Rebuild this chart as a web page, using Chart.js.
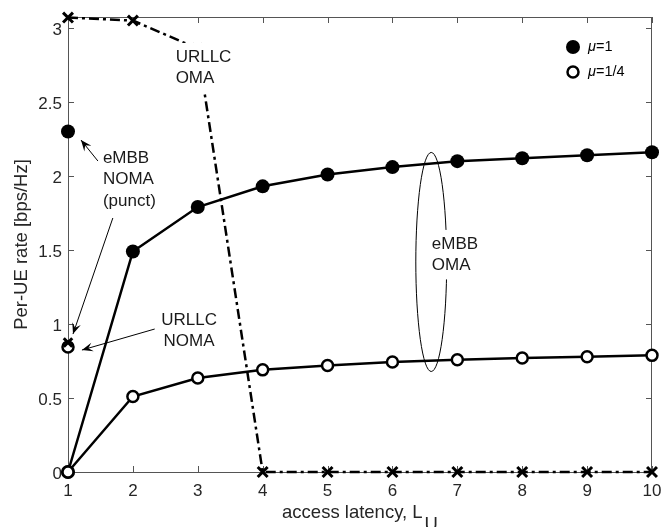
<!DOCTYPE html>
<html><head><meta charset="utf-8">
<script src="https://cdn.jsdelivr.net/npm/chart.js@4/dist/chart.umd.min.js"></script>
<style>html,body{margin:0;padding:0;background:#fff}#wrap{width:662px;height:527px}</style>
</head><body><div id="wrap"><canvas id="c" width="662" height="527"></canvas></div>
<script>
// ---- data ----
const latency = [1, 2, 3, 4, 5, 6, 7, 8, 9, 10];
const embbOmaMu1 = [0, 1.49, 1.79, 1.93, 2.01, 2.06, 2.10, 2.12, 2.14, 2.16];
const embbOmaMuQuarter = [0, 0.51, 0.635, 0.69, 0.72, 0.743, 0.758, 0.77, 0.779, 0.788];
const urllcOma = [3.07, 3.05, 2.86, 0, 0, 0, 0, 0, 0, 0];
const nomaLatency = [1];
const embbNomaPunctMu1 = [2.30];
const embbNomaPunctMuQuarter = [0.845];
const urllcNoma = [0.875];
const xTicks = [1, 2, 3, 4, 5, 6, 7, 8, 9, 10];
const yTicks = [0, 0.5, 1, 1.5, 2, 2.5, 3];
const legendLabels = ['=1', '=1/4'];

const FONT = "'Liberation Sans', Arial, Helvetica, sans-serif";
const pts = (xs, ys) => xs.map((x, i) => ({x: x, y: ys[i]}));

// annotation texts (anchored in data coordinates)
const notes = [
  {lines: ['URLLC', 'OMA'], x: 2.659, y: 2.804, align: 'left'},
  {lines: ['eMBB', 'NOMA', '(punct)'], x: 1.5375, y: 2.122, align: 'left'},
  {lines: ['URLLC', 'NOMA'], x: 2.866, y: 1.027, align: 'center'},
  {lines: ['eMBB', 'OMA'], x: 6.606, y: 1.541, align: 'left'}
];
const arrows = [
  {from: [1.461, 2.101], to: [1.2, 2.243]},
  {from: [1.691, 1.716], to: [1.077, 0.932]},
  {from: [2.336, 0.966], to: [1.215, 0.824]}
];
const ellipse = {cx: 6.598, cy: 1.419, rx: 0.238, ry: 0.74};

const frame = {
  id: 'frame',
  beforeDatasetsDraw(chart) {
    const {ctx, chartArea: a, scales: {x, y}} = chart;
    ctx.save();
    ctx.strokeStyle = '#555';
    ctx.lineWidth = 1;
    ctx.strokeRect(Math.round(a.left) + 0.5, Math.round(a.top) + 0.5,
      Math.round(a.right - a.left) - 1, Math.round(a.bottom - a.top));
    ctx.beginPath();
    xTicks.forEach(v => {
      const p = Math.round(x.getPixelForValue(v)) + 0.5;
      ctx.moveTo(p, a.bottom); ctx.lineTo(p, a.bottom - 6);
      ctx.moveTo(p, a.top); ctx.lineTo(p, a.top + 6);
    });
    yTicks.forEach(v => {
      const p = Math.round(y.getPixelForValue(v)) + 0.5;
      ctx.moveTo(a.left, p); ctx.lineTo(a.left + 6, p);
      ctx.moveTo(a.right, p); ctx.lineTo(a.right - 6, p);
    });
    ctx.stroke();
    ctx.restore();
  },
  afterDatasetsDraw(chart) {
    const {ctx, chartArea: a, scales: {x, y}} = chart;
    ctx.save();
    // ellipse
    ctx.strokeStyle = '#000';
    ctx.lineWidth = 1;
    ctx.beginPath();
    const ecx = x.getPixelForValue(ellipse.cx), ecy = y.getPixelForValue(ellipse.cy);
    const erx = Math.abs(x.getPixelForValue(ellipse.cx + ellipse.rx) - ecx);
    const ery = Math.abs(y.getPixelForValue(ellipse.cy + ellipse.ry) - ecy);
    ctx.ellipse(ecx, ecy, erx, ery, 0, 0, Math.PI * 2);
    ctx.stroke();
    // notes
    ctx.font = '17px ' + FONT;
    ctx.textBaseline = 'middle';
    const lh = 21.5;
    notes.forEach(n => {
      const px = x.getPixelForValue(n.x), py = y.getPixelForValue(n.y);
      const ws = n.lines.map(t => ctx.measureText(t).width);
      const wmax = Math.max(...ws);
      const left = n.align === 'left' ? px : px - wmax / 2;
      ctx.fillStyle = '#fff';
      ctx.fillRect(left - 4, py - 14, wmax + 8, lh * (n.lines.length - 1) + 28);
      ctx.fillStyle = '#1a1a1a';
      n.lines.forEach((t, i) => {
        ctx.textAlign = n.align;
        ctx.fillText(t, px, py + i * lh);
      });
    });
    // arrows
    ctx.strokeStyle = '#000';
    ctx.fillStyle = '#000';
    arrows.forEach(ar => {
      const x0 = x.getPixelForValue(ar.from[0]), y0 = y.getPixelForValue(ar.from[1]);
      const x1 = x.getPixelForValue(ar.to[0]), y1 = y.getPixelForValue(ar.to[1]);
      const ang = Math.atan2(y1 - y0, x1 - x0);
      ctx.lineWidth = 1;
      ctx.beginPath(); ctx.moveTo(x0, y0); ctx.lineTo(x1, y1); ctx.stroke();
      const L = 11, W = 4.5;
      ctx.beginPath();
      ctx.moveTo(x1, y1);
      ctx.lineTo(x1 - L * Math.cos(ang) + W * Math.sin(ang), y1 - L * Math.sin(ang) - W * Math.cos(ang));
      ctx.lineTo(x1 - 0.6 * L * Math.cos(ang), y1 - 0.6 * L * Math.sin(ang));
      ctx.lineTo(x1 - L * Math.cos(ang) - W * Math.sin(ang), y1 - L * Math.sin(ang) + W * Math.cos(ang));
      ctx.closePath();
      ctx.fill();
    });
    // legend
    const lx = a.right - 79, ly1 = a.top + 30, ly2 = a.top + 55;
    ctx.beginPath(); ctx.arc(lx, ly1, 7, 0, Math.PI * 2); ctx.fillStyle = '#000'; ctx.fill();
    ctx.beginPath(); ctx.arc(lx, ly2, 5.5, 0, Math.PI * 2); ctx.fillStyle = '#fff'; ctx.fill();
    ctx.lineWidth = 2.5; ctx.strokeStyle = '#000'; ctx.stroke();
    ctx.fillStyle = '#000';
    ctx.textAlign = 'left';
    [ly1, ly2].forEach((ly, i) => {
      ctx.font = 'italic 14.5px ' + FONT;
      ctx.fillText('\u03bc', lx + 15, ly);
      const w = ctx.measureText('\u03bc').width;
      ctx.font = '14.5px ' + FONT;
      ctx.fillText(legendLabels[i], lx + 15 + w, ly);
    });
    // x title
    ctx.font = '18.5px ' + FONT;
    ctx.fillStyle = '#262626';
    ctx.textBaseline = 'alphabetic';
    const t1 = 'access latency, L', t2 = 'U';
    const w1 = ctx.measureText(t1).width, w2 = ctx.measureText(t2).width;
    const cx = (a.left + a.right) / 2;
    const sx = cx - (w1 + w2 + 2) / 2;
    ctx.fillText(t1, sx, 518);
    ctx.fillText(t2, sx + w1 + 2, 530);
    ctx.restore();
  }
};

const common = {fill: false, tension: 0, clip: false, borderColor: '#000', pointBorderColor: '#000'};

new Chart(document.getElementById('c'), {
  type: 'line',
  data: {
    datasets: [
      Object.assign({label: 'eMBB OMA, \u03bc=1/4', data: pts(latency, embbOmaMuQuarter),
        borderWidth: 2.5, pointRadius: 5.5, pointBorderWidth: 2.5, pointBackgroundColor: '#fff', pointStyle: 'circle'}, common),
      Object.assign({label: 'eMBB OMA, \u03bc=1', data: pts(latency, embbOmaMu1),
        borderWidth: 2.5, pointRadius: 7, pointBorderWidth: 0, pointBackgroundColor: '#000', pointStyle: 'circle'}, common),
      Object.assign({label: 'URLLC OMA', data: pts(latency, urllcOma),
        borderWidth: 2.5, borderDash: [10, 4, 3, 4], pointRadius: 7, pointBorderWidth: 3, pointStyle: 'crossRot'}, common),
      Object.assign({label: 'URLLC NOMA', data: pts(nomaLatency, urllcNoma), showLine: false,
        pointRadius: 6, pointBorderWidth: 3, pointStyle: 'crossRot'}, common),
      Object.assign({label: 'eMBB NOMA (punct), \u03bc=1/4', data: pts(nomaLatency, embbNomaPunctMuQuarter), showLine: false,
        pointRadius: 5.5, pointBorderWidth: 2.5, pointBackgroundColor: '#fff', pointStyle: 'circle'}, common),
      Object.assign({label: 'eMBB NOMA (punct), \u03bc=1', data: pts(nomaLatency, embbNomaPunctMu1), showLine: false,
        pointRadius: 7, pointBorderWidth: 0, pointBackgroundColor: '#000', pointStyle: 'circle'}, common)
    ]
  },
  options: {
    responsive: false,
    animation: false,
    devicePixelRatio: 1,
    layout: {padding: {left: 0, right: 8, top: 17, bottom: 0}},
    plugins: {legend: {display: false}, tooltip: {enabled: false}},
    scales: {
      x: {
        type: 'linear', min: 1, max: 10,
        grid: {display: false, drawTicks: false},
        border: {display: false},
        afterBuildTicks: s => { s.ticks = xTicks.map(v => ({value: v})); },
        afterFit: s => { s.height = 55; s.paddingLeft = 0; s.paddingRight = 0; },
        ticks: {autoSkip: false, maxRotation: 0, padding: 9, color: '#262626',
          font: {family: FONT, size: 17}, callback: v => String(v)}
      },
      y: {
        type: 'linear', min: 0, max: 3.074,
        grid: {display: false, drawTicks: false},
        border: {display: false},
        afterBuildTicks: s => { s.ticks = yTicks.map(v => ({value: v})); },
        afterFit: s => { s.width = 68; s.paddingTop = 0; s.paddingBottom = 0; },
        ticks: {autoSkip: false, padding: 6, labelOffset: 2, color: '#262626',
          font: {family: FONT, size: 17}, callback: v => String(v)},
        title: {display: true, text: 'Per-UE rate [bps/Hz]', color: '#262626',
          font: {family: FONT, size: 18.5}, padding: {top: 11, bottom: 0}}
      }
    }
  },
  plugins: [frame]
});
</script>
</body></html>
